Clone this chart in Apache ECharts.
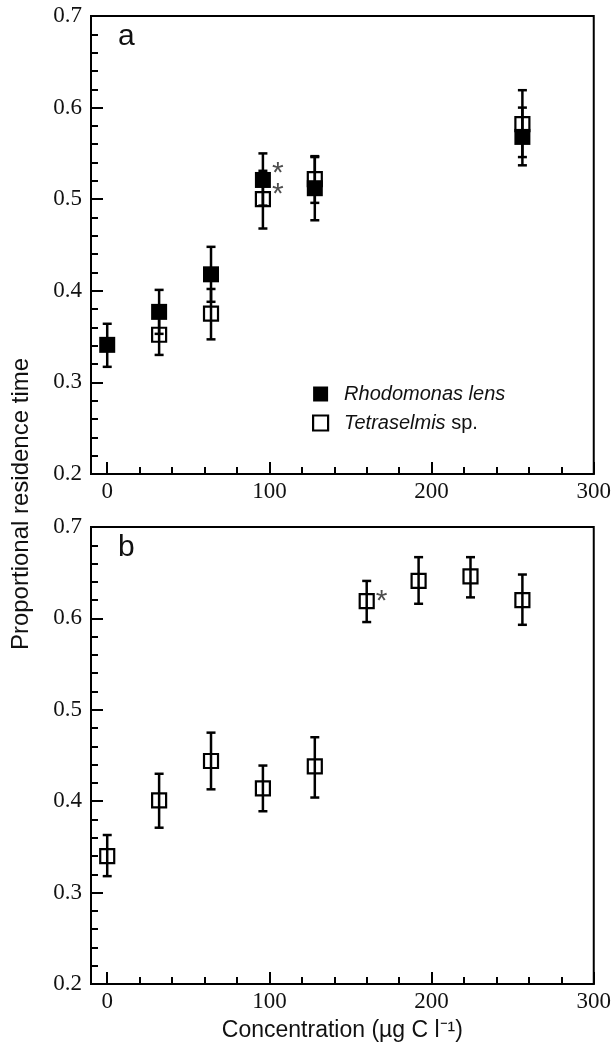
<!DOCTYPE html>
<html><head><meta charset="utf-8">
<script src="https://cdn.jsdelivr.net/npm/echarts@6/dist/echarts.min.js"></script>
<style>html,body{margin:0;padding:0;background:#fff}#c{width:614px;height:1048px}</style>
</head><body><div id="c"></div>
<script>
// ---------- data ----------
// Panel a: Rhodomonas lens (filled)
const rhodoConc = [0, 32, 64, 96, 128, 256];
const rhodoMean = [0.341, 0.377, 0.418, 0.521, 0.512, 0.568];
const rhodoLow  = [0.317, 0.353, 0.388, 0.493, 0.477, 0.537];
const rhodoHigh = [0.364, 0.401, 0.448, 0.550, 0.547, 0.600];
const rhodoSig  = [0, 0, 0, 1, 0, 0];
// Panel a: Tetraselmis sp. (open)
const tetraAConc = [32, 64, 96, 128, 256];
const tetraAMean = [0.352, 0.375, 0.500, 0.522, 0.582];
const tetraALow  = [0.330, 0.347, 0.468, 0.496, 0.546];
const tetraAHigh = [0.374, 0.402, 0.531, 0.546, 0.619];
const tetraASig  = [0, 0, 1, 0, 0];
// Panel b: Tetraselmis sp. (open)
const tetraBConc = [0, 32, 64, 96, 128, 160, 192, 224, 256];
const tetraBMean = [0.340, 0.401, 0.444, 0.414, 0.438, 0.619, 0.641, 0.646, 0.620];
const tetraBLow  = [0.318, 0.371, 0.413, 0.389, 0.404, 0.596, 0.616, 0.623, 0.593];
const tetraBHigh = [0.363, 0.430, 0.475, 0.439, 0.470, 0.641, 0.667, 0.667, 0.648];
const tetraBSig  = [0, 0, 0, 0, 0, 1, 0, 0, 0];
// axes
const xMajorTicks = [0, 100, 200, 300];
const xMinorTicks = [0, 20, 40, 60, 80, 100, 120, 140, 160, 180, 200, 220, 240, 260, 280, 300];
const xMin = -10, xMax = 300;
const yMin = 0.2, yMax = 0.7, yStep = 0.1;
const panelLabels = ['a', 'b'];
const legendNames = ['Rhodomonas lens', 'Tetraselmis sp.'];
const yTitle = 'Proportional residence time';
const xTitle = 'Concentration (µg C l⁻¹)';

// ---------- build ----------
const chart = echarts.init(document.getElementById('c'), null, {renderer: 'canvas'});
const BLACK = '#000';
const zip3 = (a, b, c) => a.map((v, i) => [v, b[i], c[i]]);
const zip2 = (a, b) => a.map((v, i) => [v, b[i]]);
const sigPts = (x, y, s) => x.map((v, i) => [v, y[i]]).filter((_, i) => s[i]);

function errRender(params, api) {
  const x = api.value(0), lo = api.value(1), hi = api.value(2);
  const p1 = api.coord([x, hi]), p2 = api.coord([x, lo]);
  const w = 4.5;
  const style = {stroke: BLACK, lineWidth: 2.5};
  return {type: 'group', children: [
    {type: 'line', shape: {x1: p1[0], y1: p1[1], x2: p2[0], y2: p2[1]}, style},
    {type: 'line', shape: {x1: p1[0] - w, y1: p1[1], x2: p1[0] + w, y2: p1[1]}, style},
    {type: 'line', shape: {x1: p2[0] - w, y1: p2[1], x2: p2[0] + w, y2: p2[1]}, style}
  ]};
}

const grids = [
  {left: 91, right: 19, top: 16, height: 458, show: true, borderColor: BLACK, borderWidth: 2, backgroundColor: 'transparent'},
  {left: 91, right: 19, top: 527, height: 457, show: true, borderColor: BLACK, borderWidth: 2, backgroundColor: 'transparent'}
];

const TICKFONT = 23;
function mainX(gi, withName) {
  return {
    type: 'value', gridIndex: gi, min: xMin, max: xMax, position: 'bottom',
    axisLine: {show: true, onZero: false, lineStyle: {color: BLACK, width: 2}},
    axisTick: {show: true, inside: true, length: 12, customValues: xMajorTicks, lineStyle: {color: BLACK, width: 2}},
    axisLabel: {show: true, customValues: xMajorTicks, margin: 6, color: '#111', fontFamily: 'Liberation Serif', fontSize: TICKFONT},
    splitLine: {show: false},
    name: withName ? xTitle : '', nameLocation: 'middle', nameGap: 35,
    nameTextStyle: {fontFamily: 'Liberation Sans', fontSize: 23, color: '#111'}
  };
}
function minorX(gi) {
  return {
    type: 'value', gridIndex: gi, min: xMin, max: xMax, position: 'bottom',
    axisLine: {show: false},
    axisTick: {show: true, inside: true, length: 7, customValues: xMinorTicks, lineStyle: {color: BLACK, width: 2}},
    axisLabel: {show: false},
    splitLine: {show: false}
  };
}
function mainY(gi) {
  return {
    type: 'value', gridIndex: gi, min: yMin, max: yMax, interval: yStep,
    axisLine: {show: true, onZero: false, lineStyle: {color: BLACK, width: 2}},
    axisTick: {show: true, inside: true, length: 12, lineStyle: {color: BLACK, width: 2}},
    minorTick: {show: true, splitNumber: 5, length: 7, lineStyle: {color: BLACK, width: 2}},
    axisLabel: {margin: 9, color: '#111', fontFamily: 'Liberation Serif', fontSize: TICKFONT,
      formatter: v => v.toFixed(1)},
    splitLine: {show: false}, minorSplitLine: {show: false}
  };
}

const filledStyle = {color: BLACK, borderColor: BLACK, borderWidth: 0, opacity: 1};
const openStyle = {color: 'rgba(0,0,0,0)', borderColor: BLACK, borderWidth: 2.2, opacity: 1};

function errSeries(name, xi, yi, data) {
  return {type: 'custom', name: name, xAxisIndex: xi, yAxisIndex: yi, renderItem: errRender,
    encode: {x: 0, y: [1, 2]}, data: data, z: 2, silent: true};
}
function starSeries(xi, yi, data, off) {
  return {type: 'scatter', xAxisIndex: xi, yAxisIndex: yi, data: data, symbolSize: 1,
    itemStyle: {color: 'rgba(0,0,0,0)'}, z: 5, silent: true,
    label: {show: true, formatter: '*', position: 'inside', offset: off, color: '#222',
      fontFamily: 'Liberation Sans', fontSize: 30}};
}

const option = {
  animation: false,
  backgroundColor: '#fff',
  grid: grids,
  xAxis: [mainX(0, false), minorX(0), mainX(1, true), minorX(1)],
  yAxis: [mainY(0), mainY(1)],
  legend: {
    show: true, orient: 'vertical', left: 312, top: 384, itemGap: 9, padding: 0,
    itemWidth: 15, itemHeight: 15, icon: 'rect',
    data: [
      {name: legendNames[0], itemStyle: filledStyle},
      {name: legendNames[1], itemStyle: openStyle}
    ],
    selectedMode: false,
    formatter: n => n === legendNames[1] ? '{i|Tetraselmis}{n| sp.}' : '{i|' + n + '}',
    textStyle: {fontFamily: 'Liberation Sans', fontSize: 20, color: '#111', padding: [0, 0, 0, 11],
      rich: {
        i: {fontFamily: 'Liberation Sans', fontStyle: 'italic', fontSize: 20, color: '#111'},
        n: {fontFamily: 'Liberation Sans', fontSize: 20, color: '#111'}
      }}
  },
  graphic: [
    {type: 'text', x: 21, y: 504, rotation: Math.PI / 2,
      style: {text: yTitle, font: '24px "Liberation Sans"', fill: '#111', align: 'center', verticalAlign: 'middle'}},
    {type: 'text', left: 118, top: 22, style: {text: panelLabels[0], font: '30px "Liberation Sans"', fill: '#111'}},
    {type: 'text', left: 118, top: 533, style: {text: panelLabels[1], font: '30px "Liberation Sans"', fill: '#111'}}
  ],
  series: [
    errSeries('errTa', 0, 0, zip3(tetraAConc, tetraALow, tetraAHigh)),
    errSeries('errRh', 0, 0, zip3(rhodoConc, rhodoLow, rhodoHigh)),
    {type: 'scatter', name: legendNames[0], xAxisIndex: 0, yAxisIndex: 0, symbol: 'rect', symbolSize: 16,
      itemStyle: filledStyle, data: zip2(rhodoConc, rhodoMean), z: 3},
    {type: 'scatter', name: legendNames[1], xAxisIndex: 0, yAxisIndex: 0, symbol: 'rect', symbolSize: 14,
      itemStyle: openStyle, data: zip2(tetraAConc, tetraAMean), z: 4},
    starSeries(0, 0, sigPts(rhodoConc, rhodoMean, rhodoSig), [15, -6]),
    starSeries(0, 0, sigPts(tetraAConc, tetraAMean, tetraASig), [15, -4]),
    errSeries('errTb', 2, 1, zip3(tetraBConc, tetraBLow, tetraBHigh)),
    {type: 'scatter', name: 'Tetraselmis sp. (b)', xAxisIndex: 2, yAxisIndex: 1, symbol: 'rect', symbolSize: 14,
      itemStyle: openStyle, data: zip2(tetraBConc, tetraBMean), z: 4},
    starSeries(2, 1, sigPts(tetraBConc, tetraBMean, tetraBSig), [15, 1])
  ]
};
chart.setOption(option);
</script>
</body></html>
